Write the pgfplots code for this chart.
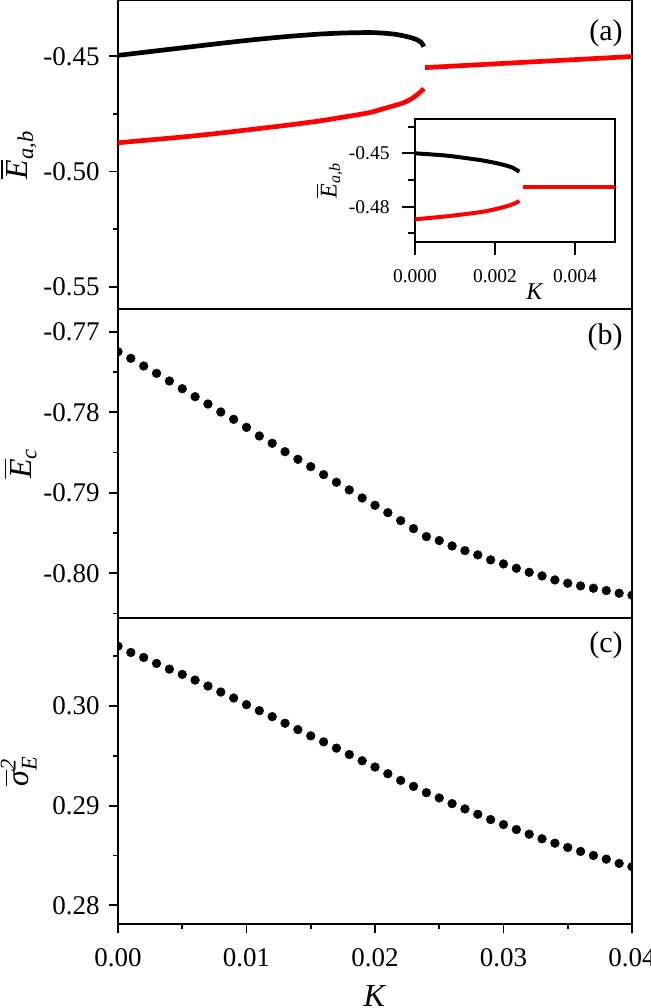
\documentclass[border=0pt]{standalone}
\usepackage{fontspec}
\setmainfont{Liberation Serif}
\usepackage{amsmath}
\usepackage{pgfplots}
\usepackage{pgfplotstable}
\pgfplotsset{compat=1.18}

\pgfplotstableread{
K E
0.000 -0.77248
0.001 -0.77331
0.002 -0.77426
0.003 -0.77517
0.004 -0.77612
0.005 -0.77708
0.006 -0.77807
0.007 -0.77898
0.008 -0.77997
0.009 -0.78088
0.010 -0.78188
0.011 -0.78295
0.012 -0.78386
0.013 -0.78490
0.014 -0.78585
0.015 -0.78676
0.016 -0.78775
0.017 -0.78870
0.018 -0.78965
0.019 -0.79065
0.020 -0.79156
0.021 -0.79247
0.022 -0.79346
0.023 -0.79446
0.024 -0.79545
0.025 -0.79594
0.026 -0.79661
0.027 -0.79719
0.028 -0.79772
0.029 -0.79834
0.030 -0.79884
0.031 -0.79938
0.032 -0.79988
0.033 -0.80033
0.034 -0.80083
0.035 -0.80124
0.036 -0.80157
0.037 -0.80186
0.038 -0.80215
0.039 -0.80248
0.040 -0.80273
}\dataB

\pgfplotstableread{
K S
0.000 0.30600
0.001 0.30537
0.002 0.30487
0.003 0.30427
0.004 0.30370
0.005 0.30317
0.006 0.30260
0.007 0.30200
0.008 0.30140
0.009 0.30080
0.010 0.30013
0.011 0.29953
0.012 0.29893
0.013 0.29827
0.014 0.29763
0.015 0.29700
0.016 0.29640
0.017 0.29577
0.018 0.29513
0.019 0.29450
0.020 0.29387
0.021 0.29320
0.022 0.29253
0.023 0.29193
0.024 0.29130
0.025 0.29077
0.026 0.29020
0.027 0.28967
0.028 0.28913
0.029 0.28860
0.030 0.28810
0.031 0.28760
0.032 0.28713
0.033 0.28667
0.034 0.28623
0.035 0.28580
0.036 0.28540
0.037 0.28500
0.038 0.28463
0.039 0.28420
0.040 0.28387
}\dataC

\pgfplotsset{
  mainax/.style={
    scale only axis, width=257pt,
    xmin=0, xmax=0.04,
    anchor=south west,
    axis line style={line width=1pt},
    tick align=outside, tick pos=left,
    major tick length=4.5pt, minor tick length=2.25pt,
    every tick/.style={line width=0.9pt, black},
    scaled ticks=false,
    /pgf/number format/assume math mode=true,
    tick label style={font=\fontsize{13.5}{14}\selectfont},
    yticklabel style={inner sep=0pt, anchor=east, xshift=-4.5pt,
      /pgf/number format/.cd, fixed, fixed zerofill, precision=2},
    xticklabel style={inner sep=0pt, anchor=north, yshift=-7.5pt,
      /pgf/number format/.cd, fixed, fixed zerofill, precision=2},
    label style={font=\fontsize{16}{18}\selectfont},
    ylabel style={at={(axis description cs:-0.1576,0.5)}, anchor=south, inner sep=0pt},
    clip marker paths=true,
  },
  dots/.style={only marks, mark=*, mark size=2.2pt, mark options={fill=black, draw=black, line width=0.2pt}},
}
\tikzset{panellabel/.style={anchor=north east, inner sep=0pt, font=\fontsize{15}{16}\selectfont}}

\begin{document}
\begin{tikzpicture}
\useasboundingbox (-59pt,-41.85pt) rectangle (266pt,462.15pt);

% panel (c)
\begin{axis}[mainax, at={(0pt,0pt)}, height=153.3pt,
  ymin=0.27809, ymax=0.30886,
  ytick={0.28,0.29,0.30}, minor ytick={0.285,0.295,0.305},
  xtick={0,0.01,0.02,0.03,0.04}, minor xtick={0.005,0.015,0.025,0.035},
  xlabel={\textit{K}},
  xlabel style={at={(axis description cs:0.5,-0.2348)}, anchor=center, inner sep=0pt},
  ylabel={$\overline{\textit{σ}}{}^{\text{\itshape 2}}_{\text{\itshape E}}$},
]
\addplot[dots] table[x=K, y=S] {\dataC};
\node[panellabel] at (rel axis cs:1,1) [xshift=-4.5pt, yshift=-7pt] {(c)};
\end{axis}

% panel (b)
\begin{axis}[mainax, at={(0pt,153.3pt)}, height=154.1pt,
  ymin=-0.80552, ymax=-0.76724,
  ytick={-0.80,-0.79,-0.78,-0.77}, minor ytick={-0.805,-0.795,-0.785,-0.775},
  xtick=\empty,
  ylabel={$\overline{\textit{E}}_{\text{\itshape c}}$},
]
\addplot[dots] table[x=K, y=E] {\dataB};
\node[panellabel] at (rel axis cs:1,1) [xshift=-4.5pt, yshift=-6.75pt] {(b)};
\end{axis}

% panel (a)
\begin{axis}[mainax, at={(0pt,307.4pt)}, height=154.5pt,
  ymin=-0.5598, ymax=-0.4258,
  ytick={-0.55,-0.50,-0.45}, minor ytick={-0.525,-0.475},
  xtick=\empty,
  ylabel={$\overline{\textit{E}}_{\text{\itshape a,b}}$},
]
\addplot[black, line width=2.35pt, smooth, tension=0.4] coordinates {
(0,-0.4496) (0.0026,-0.4479) (0.0052,-0.4462) (0.0078,-0.4445) (0.0104,-0.4429)
(0.0130,-0.4415) (0.0156,-0.4404) (0.0175,-0.4399) (0.0195,-0.4397) (0.0205,-0.4399)
(0.0215,-0.4404) (0.0223,-0.4412) (0.0228,-0.4419) (0.0233,-0.4429) (0.0236,-0.4440)
(0.0238,-0.4458)};
\addplot[red, line width=2.35pt, smooth, tension=0.4] coordinates {
(0,-0.4875) (0.0026,-0.4862) (0.0052,-0.4849) (0.0078,-0.4834) (0.0104,-0.4817)
(0.0130,-0.4800) (0.0156,-0.4781) (0.0175,-0.4764) (0.0195,-0.4745) (0.0210,-0.4722)
(0.0221,-0.4704) (0.0228,-0.4686) (0.0232,-0.4670) (0.0236,-0.4652) (0.0238,-0.4640)};
\addplot[red, line width=2.35pt] coordinates {(0.0239,-0.4549) (0.04,-0.4501)};
\node[panellabel] at (rel axis cs:1,1) [xshift=-4.5pt, yshift=-9.5pt] {(a)};
\end{axis}

% inset
\begin{axis}[at={(148.5pt,341.3pt)}, anchor=south west,
  scale only axis, width=100pt, height=61.35pt,
  xmin=0, xmax=0.005, ymin=-0.4997, ymax=-0.4307,
  axis line style={line width=0.9pt},
  axis background/.style={fill=white},
  tick align=outside, tick pos=left,
  major tick length=6.5pt, minor tick length=3.5pt,
  every tick/.style={line width=0.9pt, black},
  scaled ticks=false,
  /pgf/number format/assume math mode=true,
  xtick={0,0.002,0.004}, ytick={-0.48,-0.45}, minor ytick={-0.495,-0.465,-0.435},
  tick label style={font=\fontsize{9.75}{11}\selectfont},
  yticklabel style={inner sep=0pt, anchor=east, xshift=-6pt,
    /pgf/number format/.cd, fixed, fixed zerofill, precision=2},
  xticklabel style={inner sep=0pt, anchor=north, yshift=-7pt,
    /pgf/number format/.cd, fixed, fixed zerofill, precision=3},
  label style={font=\fontsize{12}{13}\selectfont},
  xlabel={\textit{K}},
  xlabel style={at={(axis description cs:0.6,-0.41)}, anchor=center, inner sep=0pt},
  ylabel={$\overline{\textit{E}}_{\text{\itshape a,b}}$},
  ylabel style={at={(axis description cs:-0.36,0.5)}, anchor=south, inner sep=0pt},
]
\addplot[black, line width=2pt, smooth, tension=0.4] coordinates {
(0,-0.4500) (0.00079,-0.4513) (0.00163,-0.4538) (0.00213,-0.4560) (0.00242,-0.4579) (0.00261,-0.4603)};
\addplot[red, line width=2pt, smooth, tension=0.4] coordinates {
(0,-0.4871) (0.00088,-0.4852) (0.00171,-0.4828) (0.00221,-0.4803) (0.00246,-0.4785) (0.00261,-0.4768)};
\addplot[red, line width=2pt] coordinates {(0.0027,-0.4688) (0.005,-0.4688)};
\end{axis}
\end{tikzpicture}
\end{document}
